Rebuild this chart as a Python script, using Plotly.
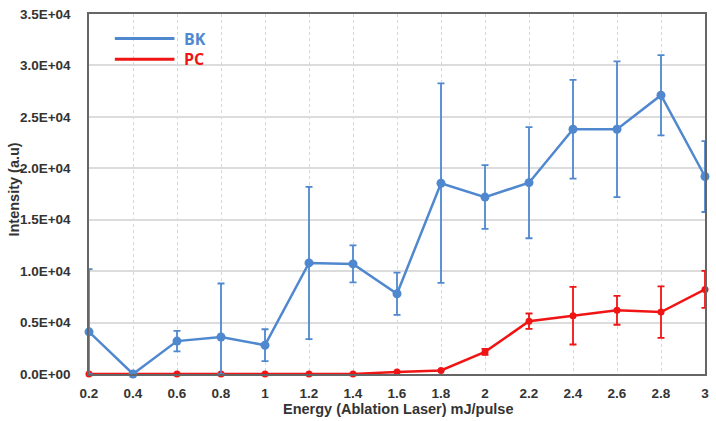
import plotly.graph_objects as go

energy = [0.2, 0.4, 0.6, 0.8, 1.0, 1.2, 1.4, 1.6, 1.8, 2.0, 2.2, 2.4, 2.6, 2.8, 3.0]
bk = [4100, 0, 3200, 3600, 2800, 10800, 10700, 7800, 18550, 17200, 18600, 23800, 23800, 27100, 19200]
bk_err = [6100, 0, 1000, 5200, 1550, 7400, 1800, 2050, 9700, 3100, 5400, 4800, 6600, 3900, 3450]
pc = [0, 0, 0, 0, 0, 0, 0, 200, 350, 2150, 5130, 5670, 6190, 6020, 8220]
pc_err = [0, 0, 0, 0, 0, 0, 0, 0, 0, 300, 750, 2800, 1400, 2500, 1800]

x_ticks = [0.2, 0.4, 0.6, 0.8, 1.0, 1.2, 1.4, 1.6, 1.8, 2.0, 2.2, 2.4, 2.6, 2.8, 3.0]
x_tick_text = ["0.2", "0.4", "0.6", "0.8", "1", "1.2", "1.4", "1.6", "1.8", "2", "2.2", "2.4", "2.6", "2.8", "3"]
y_ticks = [0, 5000, 10000, 15000, 20000, 25000, 30000, 35000]
y_tick_text = ["0.0E+00", "0.5E+04", "1.0E+04", "1.5E+04", "2.0E+04", "2.5E+04", "3.0E+04", "3.5E+04"]

BLUE = "#5088cf"
RED = "#f01515"

# error bars are clipped at the zero line, as in the reference
bk_err_minus = [min(e, v) for e, v in zip(bk_err, bk)]
pc_err_minus = [min(e, v) for e, v in zip(pc_err, pc)]

fig = go.Figure()
fig.add_trace(go.Scatter(
    x=energy, y=pc, mode="lines+markers", name="PC",
    line=dict(color=RED, width=2.5), marker=dict(color=RED, size=7),
    error_y=dict(type="data", array=pc_err, arrayminus=pc_err_minus, symmetric=False,
                 visible=True, color=RED, thickness=1.8, width=3.5),
    cliponaxis=False, showlegend=False,
))
fig.add_trace(go.Scatter(
    x=energy, y=bk, mode="lines+markers", name="BK",
    line=dict(color=BLUE, width=2.5), marker=dict(color=BLUE, size=9),
    error_y=dict(type="data", array=bk_err, arrayminus=bk_err_minus, symmetric=False,
                 visible=True, color=BLUE, thickness=1.8, width=3.5),
    cliponaxis=False, showlegend=False,
))

tick_font = dict(family="Arial, Liberation Sans, sans-serif", size=13.5, color="#333333")
fig.update_xaxes(
    range=[0.2, 3.0], tickvals=x_ticks, ticktext=[f"<b>{t}</b>" for t in x_tick_text], tickfont=tick_font,
    showgrid=True, gridcolor="#d6d6d6", griddash="dot", gridwidth=1,
    showline=True, linecolor="#666666", linewidth=1.5, mirror=True,
    ticks="", ticklabelstandoff=6, zeroline=False,
)
fig.update_yaxes(
    range=[0, 35000], tickvals=y_ticks, ticktext=[f"<b>{t}</b>" for t in y_tick_text], tickfont=tick_font,
    showgrid=True, gridcolor="#dcdcdc", gridwidth=1.5,
    showline=True, linecolor="#666666", linewidth=1.5, mirror=True,
    ticks="", ticklabelstandoff=14, zeroline=False,
)

pw, ph = 716 - 89 - 7, 421 - 8 - 47
def px(xp):
    return (xp - 89) / pw
def py(yp):
    return (421 - 47 - yp) / ph

title_font = dict(family="Arial, Liberation Sans, sans-serif", size=14.5, color="#333333")
annotations = [
    dict(text="<b>Energy (Ablation Laser) mJ/pulse</b>", x=px(400), y=py(410), xref="paper", yref="paper",
         xanchor="center", yanchor="middle", showarrow=False, font=title_font),
    dict(text="<b>Intensity (a.u)</b>", x=px(14), y=py(186), xref="paper", yref="paper",
         xanchor="center", yanchor="middle", showarrow=False, font=title_font, textangle=-90),
]

legend_font = dict(family="Open Sans, Carlito, sans-serif", size=16)
for name, color, yp in [("BK", BLUE, 33), ("PC", RED, 54)]:
    fig.add_shape(type="line", xref="paper", yref="paper",
                  x0=px(115), x1=px(175), y0=py(yp), y1=py(yp),
                  line=dict(color=color, width=3))
    annotations.append(dict(text=f"<b>{name}</b>", x=px(183), y=py(yp), xref="paper", yref="paper",
                            xanchor="left", yanchor="middle", showarrow=False,
                            font=dict(color=color, **legend_font)))

fig.update_layout(
    width=716, height=421,
    margin=dict(l=89, r=7, t=8, b=47),
    paper_bgcolor="white", plot_bgcolor="white",
    showlegend=False, annotations=annotations,
)
fig.write_html("out.html")
